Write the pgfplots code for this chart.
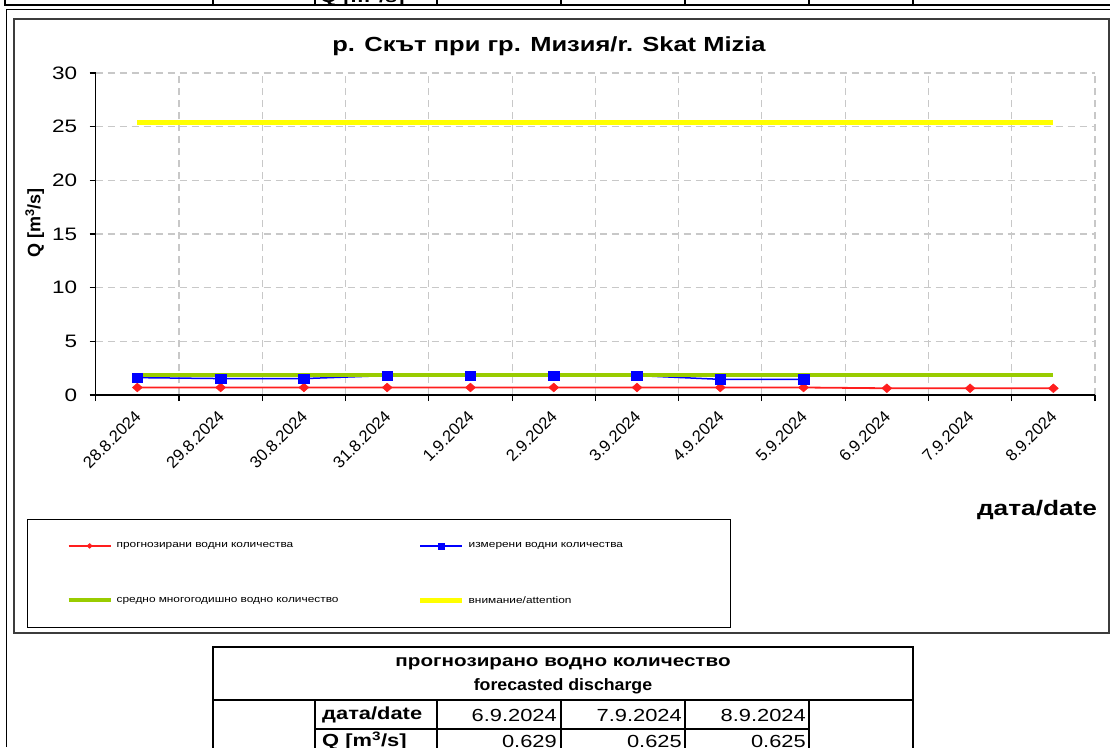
\documentclass[border=0pt]{standalone}
\usepackage{pgfplots}
\pgfplotsset{compat=1.18}
\usepackage{fontspec}
\setmainfont{Liberation Sans}[FakeStretch=1.25]
\newfontfamily\plainfont{Liberation Sans}
\definecolor{exred}{RGB}{255,30,30}
\definecolor{exblue}{RGB}{0,0,255}
\definecolor{exgreen}{RGB}{153,204,0}
\definecolor{exyellow}{RGB}{255,255,0}
\definecolor{gridgray}{RGB}{200,200,200}
\definecolor{framegray}{RGB}{60,60,60}
\begin{document}
\begin{tikzpicture}
\useasboundingbox (0pt,0pt) rectangle (1110pt,-747pt);
\begin{scope}[x=1pt,y=-1pt]
% cut-off table above
\draw[line width=2pt] (5,0) -- (5,5) -- (1110,5);
\foreach \xx in {213,315,437,561,685,809,913} \draw[line width=2pt] (\xx,0) -- (\xx,5);
\node[anchor=base west, font=\bfseries\fontsize{17.5}{17.5}\selectfont, inner sep=0] at (320,2.5) {Q [m\textsuperscript{3}/s]};
% outer frames
\draw[line width=0.8pt] (6,747) -- (6,9) -- (1110,9);
\draw[line width=1.2pt, framegray] (14,19) rectangle (1109,633);
% table below
\draw[line width=2.5pt] (213,752) -- (213,647) -- (913,647) -- (913,752);
\draw[line width=2pt] (213,700) -- (913,700);
\foreach \xx in {315,437,561,685,809} \draw[line width=1.5pt] (\xx,700) -- (\xx,752);
\draw[line width=1.5pt] (315,729) -- (809,729);
\node[font=\bfseries\fontsize{16.5}{16.5}\selectfont, anchor=center] at (563,664) {прогнозирано водно количество};
\node[font=\bfseries\fontsize{16.5}{16.5}\selectfont, anchor=center] at (563,686) {\scalebox{0.86}[1]{forecasted discharge}};
\node[font=\bfseries\fontsize{17.5}{17.5}\selectfont, anchor=west, inner sep=0] at (322,715) {дата/date};
\node[font=\bfseries\fontsize{17.5}{17.5}\selectfont, anchor=west, inner sep=0] at (322,741) {Q [m\textsuperscript{3}/s]};
\node[font=\fontsize{17.5}{17.5}\selectfont, anchor=east, inner sep=0] at (557,715) {6.9.2024};
\node[font=\fontsize{17.5}{17.5}\selectfont, anchor=east, inner sep=0] at (682,715) {7.9.2024};
\node[font=\fontsize{17.5}{17.5}\selectfont, anchor=east, inner sep=0] at (806,715) {8.9.2024};
\node[font=\fontsize{17.5}{17.5}\selectfont, anchor=east, inner sep=0] at (557,741) {0.629};
\node[font=\fontsize{17.5}{17.5}\selectfont, anchor=east, inner sep=0] at (682,741) {0.625};
\node[font=\fontsize{17.5}{17.5}\selectfont, anchor=east, inner sep=0] at (806,741) {0.625};
\end{scope}
\begin{axis}[
  at={(95.7pt,-395pt)}, anchor=south west,
  scale only axis, width=999.3pt, height=322pt,
  xmin=-0.5, xmax=11.5, ymin=0, ymax=30,
  axis x line*=bottom, axis y line*=left,
  axis line style={-, black, line width=1.3pt},
  xtick={0,...,11},
  xticklabels={28.8.2024,29.8.2024,30.8.2024,31.8.2024,1.9.2024,2.9.2024,3.9.2024,4.9.2024,5.9.2024,6.9.2024,7.9.2024,8.9.2024},
  major x tick style={draw=none},
  minor xtick={-0.5,0.5,...,11.5},
  ytick={0,5,...,30},
  tick align=outside,
  major tick length=6pt, minor tick length=6pt,
  tick style={black, line width=1.1pt},
  xminorgrids=true, ymajorgrids=true,
  major grid style={gridgray, line width=1.1pt, dash pattern=on 7pt off 5pt},
  minor grid style={gridgray, line width=1.1pt, dash pattern=on 7pt off 5pt},
  xticklabel style={font=\plainfont\fontsize{16.5}{16.5}\selectfont, xshift=3pt, yshift=-10pt, rotate=45, anchor=east},
  yticklabel style={font=\fontsize{18}{18}\selectfont, xshift=-9pt},
  /pgf/number format/assume math mode=true,
  clip=false,
  title={р. Скът при гр. Мизия/r.\hspace{0.45em}Skat Mizia},
  title style={font=\bfseries\fontsize{20.4}{20.4}\selectfont, at={(axis description cs:0.4536,1.065)}, anchor=center},
  xlabel={дата/date},
  xlabel style={font=\bfseries\fontsize{21}{21}\selectfont, at={(axis description cs:0.942,-0.357)}, anchor=center},
  ylabel={Q [m\textsuperscript{3}/s]},
  ylabel style={font=\plainfont\bfseries\fontsize{18}{18}\selectfont, at={(axis description cs:-0.061,0.534)}, anchor=center},
  legend columns=2,
  legend image code/.code={\draw[mark repeat=2,mark phase=2,#1] plot coordinates {(0pt,0pt) (21pt,0pt) (42pt,0pt)};},
  legend image post style={mark size=3pt},
  legend style={at={(axis description cs:-0.0687,-0.3851)}, anchor=north west,
    draw=black, line width=1.2pt, font=\fontsize{9.5}{9.5}\selectfont,
    inner xsep=39pt, inner ysep=21pt, row sep=43pt,
    legend cell align=left,
    nodes={text width=235pt},
    /tikz/column 4/.append style={nodes={text width=221pt}},
    /tikz/every odd column/.append style={column sep=2pt},
    /tikz/every even column/.append style={column sep=64pt}},
]
\addplot[exred, line width=1.8pt, mark=diamond*, mark size=5.5pt, mark options={solid, fill=exred, draw=exred, line width=0.5pt, xscale=1.2, yscale=0.8}]
  coordinates {(0,0.70)(1,0.70)(2,0.70)(3,0.70)(4,0.70)(5,0.70)(6,0.70)(7,0.70)(8,0.70)(9,0.629)(10,0.625)(11,0.625)};
\addlegendentry{прогнозирани водни количества}
\addplot[exblue, line width=1.5pt, mark=square*, mark size=4.8pt, mark options={solid, fill=exblue, draw=exblue, line width=0.5pt, xscale=1.1}]
  coordinates {(0,1.62)(1,1.53)(2,1.53)(3,1.81)(4,1.81)(5,1.81)(6,1.81)(7,1.46)(8,1.46)};
\addlegendentry{измерени водни количества}
\addplot[exgreen, line width=4pt, no marks]
  coordinates {(0,1.9)(1,1.9)(2,1.9)(3,1.9)(4,1.9)(5,1.9)(6,1.9)(7,1.9)(8,1.9)(9,1.9)(10,1.9)(11,1.9)};
\addlegendentry{средно многогодишно водно количество}
\addplot[exyellow, line width=5pt, no marks]
  coordinates {(0,25.4)(1,25.4)(2,25.4)(3,25.4)(4,25.4)(5,25.4)(6,25.4)(7,25.4)(8,25.4)(9,25.4)(10,25.4)(11,25.4)};
\addlegendentry{внимание/attention}
\end{axis}
\end{tikzpicture}
\end{document}
